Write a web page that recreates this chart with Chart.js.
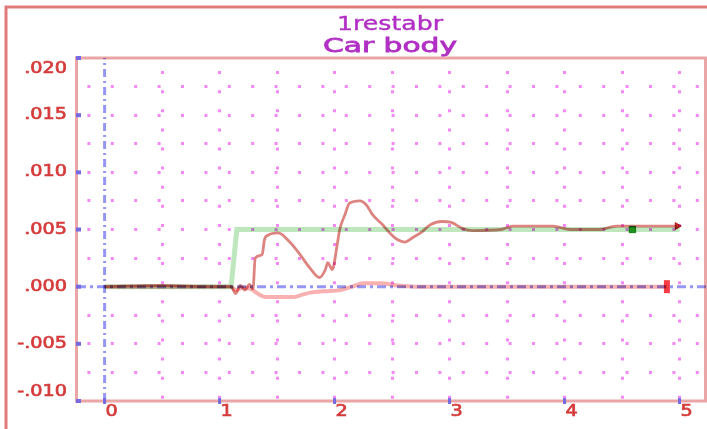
<!DOCTYPE html>
<html>
<head>
<meta charset="utf-8">
<script src="https://cdn.jsdelivr.net/npm/chart.js@4.4.1/dist/chart.umd.min.js"></script>
<style>
  html, body { margin: 0; padding: 0; background: #fff; overflow: hidden; }
  canvas { display: block; }
</style>
</head>
<body>
<canvas id="c" width="707" height="429"></canvas>
<script>
// ---- chart data ----
const titleLines = ['1restabr', 'Car body'];

// road input step (green)
const inputT = [0, 1.1, 1.15, 4.59, 5.0];
const inputY = [0, 0, 0.005, 0.005, 0.005];

// car body displacement
const bodyT = [0, 0.5, 0.9, 1.1, 1.14, 1.18, 1.22, 1.26, 1.29, 1.31, 1.37, 1.39, 1.42, 1.51,
               1.61, 1.70, 1.78, 1.87, 1.92, 1.94, 1.98, 2.02, 2.045, 2.09, 2.13, 2.22, 2.28,
               2.33, 2.42, 2.48, 2.55, 2.61, 2.68, 2.76, 2.83, 2.93, 3.02, 3.11, 3.2, 3.45,
               3.55, 3.9, 4.05, 4.3, 4.45, 4.98];
const bodyY = [0, 0.0001, 0, 0, -0.0006, 0.0001, -0.0003, 0.0002, -0.0002, 0.0025, 0.0028, 0.0041,
               0.0045, 0.0047, 0.0039, 0.0028, 0.0017, 0.0008, 0.0015, 0.0021, 0.0015, 0.0035,
               0.005, 0.0063, 0.0073, 0.0075, 0.0071, 0.0063, 0.0054, 0.0047, 0.0041, 0.0039,
               0.0043, 0.0048, 0.0054, 0.0057, 0.0056, 0.0051, 0.0049, 0.0050, 0.0053, 0.0053,
               0.0050, 0.0050, 0.0053, 0.0053];

// lower trace
const lowT = [0, 1.1, 1.14, 1.2, 1.27, 1.33, 1.4, 1.5, 1.65, 1.72, 1.8, 1.9, 2.05, 2.15, 2.25,
              2.4, 2.55, 2.7, 3.5, 4.2, 4.89];
const lowY = [0, 0, -0.0003, -0.0001, -0.0002, -0.0006, -0.0009, -0.0009, -0.0009, -0.0007,
              -0.0005, -0.0004, -0.0003, 0, 0.0003, 0.0003, 0.0001, 0, 0, 0, 0];

// axis ticks
const xTickValues = [0, 1, 2, 3, 4, 5];
const xTickLabels = ['0', '1', '2', '3', '4', '5'];
const yTickValues = [0.02, 0.015, 0.01, 0.005, 0, -0.005, -0.01];
const yTickLabels = ['.020', '.015', '.010', '.005', '.000', '-.005', '-.010'];

// ---- helpers ----
const toPts = (xs, ys) => xs.map((x, i) => ({ x, y: ys[i] }));
const X_MIN = -0.24, X_MAX = 5.23, Y_MIN = -0.01, Y_MAX = 0.02;

const gridX = [];
for (let v = 0.5; v <= 5.0001; v += 0.5) gridX.push(+v.toFixed(2));
const gridY = [];
for (let v = -0.0075; v <= 0.0176; v += 0.0025) if (Math.abs(v) > 1e-9) gridY.push(+v.toFixed(4));

const dotColor = 'rgba(242,96,242,0.75)';
const labelColor = '#d63c3c';
const tickBlue = 'rgb(118,106,226)';

// text drawn with a horizontal stretch and a light outline for weight
function stretchedText(ctx, text, x, y, sx, align, weight) {
  ctx.save();
  ctx.translate(x, y);
  ctx.scale(sx, 1);
  ctx.textAlign = align;
  ctx.fillText(text, 0, 0);
  if (weight) {
    ctx.lineWidth = weight;
    ctx.strokeStyle = ctx.fillStyle;
    ctx.strokeText(text, 0, 0);
  }
  ctx.restore();
}

const decor = {
  id: 'decor',
  beforeDraw(chart) {
    const { ctx, width, height } = chart;
    ctx.save();
    ctx.fillStyle = '#fff';
    ctx.fillRect(0, 0, width, height);
    // outer page frame
    ctx.strokeStyle = 'rgb(226,122,122)';
    ctx.lineWidth = 3;
    ctx.beginPath();
    ctx.moveTo(6, height);
    ctx.lineTo(6, 7);
    ctx.lineTo(width, 7);
    ctx.stroke();
    ctx.restore();
  },
  beforeDatasetsDraw(chart) {
    const { ctx, chartArea: a } = chart;
    ctx.save();
    ctx.strokeStyle = 'rgb(234,166,166)';
    ctx.lineWidth = 3;
    ctx.strokeRect(a.left - 0.5, a.top, a.right - a.left, a.bottom - a.top);
    ctx.restore();
    // traces blend like ink on paper
    ctx.save();
    ctx.globalCompositeOperation = 'multiply';
  },
  afterDatasetsDraw(chart) {
    chart.ctx.restore();
  },
  afterDraw(chart) {
    const { ctx, chartArea: a } = chart;
    const xs = chart.scales.x, ys = chart.scales.y;
    ctx.save();
    // small axis marks
    ctx.fillStyle = tickBlue;
    yTickValues.forEach(v => {
      const py = ys.getPixelForValue(v);
      ctx.fillRect(a.left - 1, py - 2, 5, 4);
    });
    xTickValues.forEach(v => {
      const px = xs.getPixelForValue(v);
      ctx.fillRect(px - 1.5, a.bottom - 3, 3, 6);
    });
    // tick labels
    ctx.fillStyle = labelColor;
    ctx.font = '16px "DejaVu Sans"';
    ctx.textBaseline = 'middle';
    yTickValues.forEach((v, i) => {
      let py = ys.getPixelForValue(v);
      if (v === Y_MAX) py += 11;
      if (v === Y_MIN) py -= 9;
      stretchedText(ctx, yTickLabels[i], 67, py, 1.2, 'right', 0.7);
    });
    xTickValues.forEach((v, i) => {
      const px = xs.getPixelForValue(v) + 7;
      stretchedText(ctx, xTickLabels[i], px, a.bottom + 11, 1.2, 'center', 0.7);
    });
    // title
    ctx.fillStyle = '#b12fc4';
    ctx.textBaseline = 'alphabetic';
    const titleSpec = [
      { font: '20px "DejaVu Sans"', width: 106, base: 30, weight: 0.4 },
      { font: '20px "DejaVu Sans"', width: 134, base: 52, weight: 0.8 }
    ];
    titleLines.forEach((t, i) => {
      const s = titleSpec[i];
      ctx.font = s.font;
      const w = ctx.measureText(t).width;
      stretchedText(ctx, t, 390, s.base, s.width / w, 'center', s.weight);
    });
    ctx.restore();
  }
};

const ctx = document.getElementById('c').getContext('2d');
new Chart(ctx, {
  type: 'line',
  data: {
    datasets: [
      {
        label: 'input',
        data: toPts(inputT, inputY),
        borderColor: 'rgb(190,231,190)',
        borderWidth: 5,
        tension: 0,
        pointRadius: inputT.map((t, i) => (i === 3 ? 4.5 : 0)),
        pointStyle: 'rect',
        pointBackgroundColor: 'rgb(40,160,40)',
        pointBorderColor: 'rgb(40,160,40)',
        pointBorderWidth: 1
      },
      {
        label: 'body',
        data: toPts(bodyT, bodyY),
        borderColor: 'rgb(222,132,128)',
        borderWidth: 2.8,
        cubicInterpolationMode: 'monotone',
        pointRadius: bodyT.map((t, i) => (i === bodyT.length - 1 ? 4 : 0)),
        pointStyle: 'triangle',
        rotation: 90,
        pointBackgroundColor: 'rgb(200,50,45)',
        pointBorderColor: 'rgb(200,50,45)',
        pointBorderWidth: 1
      },
      {
        label: 'lower',
        data: toPts(lowT, lowY),
        borderColor: 'rgb(249,176,176)',
        borderWidth: 4,
        cubicInterpolationMode: 'monotone',
        pointRadius: lowT.map((t, i) => (i === lowT.length - 1 ? 6.5 : 0)),
        pointStyle: 'line',
        rotation: 90,
        pointBorderColor: 'rgb(245,60,70)',
        pointBorderWidth: 6
      },
      {
        label: 'zeroH',
        data: toPts([X_MIN, X_MAX], [0, 0]),
        borderColor: 'rgb(150,150,244)',
        borderWidth: 3,
        borderDash: [9, 4, 3, 4],
        pointRadius: 0
      },
      {
        label: 'zeroV',
        data: toPts([0, 0], [Y_MIN, Y_MAX]),
        borderColor: 'rgb(150,150,244)',
        borderWidth: 3,
        borderDash: [8, 4, 2, 4],
        pointRadius: 0
      }
    ]
  },
  options: {
    responsive: false,
    animation: false,
    devicePixelRatio: 1,
    layout: { autoPadding: false, padding: { top: 58, right: 1, left: 0, bottom: 0 } },
    plugins: {
      legend: { display: false },
      tooltip: { enabled: false },
      title: { display: false }
    },
    scales: {
      x: {
        type: 'linear',
        min: X_MIN,
        max: X_MAX,
        afterBuildTicks: s => { s.ticks = gridX.map(v => ({ value: v })); },
        afterFit: s => { s.height = 28; s.paddingLeft = 0; s.paddingRight = 0; },
        ticks: { display: false },
        grid: { color: dotColor, lineWidth: 3, drawTicks: false },
        border: { display: false, dash: [3, 16.1], dashOffset: 6 }
      },
      y: {
        type: 'linear',
        min: Y_MIN,
        max: Y_MAX,
        afterBuildTicks: s => { s.ticks = gridY.map(v => ({ value: v })); },
        afterFit: s => { s.width = 77; s.paddingTop = 0; s.paddingBottom = 0; },
        ticks: { display: false },
        grid: { color: dotColor, lineWidth: 3, drawTicks: false },
        border: { display: false, dash: [3, 20.4], dashOffset: 13 }
      }
    }
  },
  plugins: [decor]
});
</script>
</body>
</html>
